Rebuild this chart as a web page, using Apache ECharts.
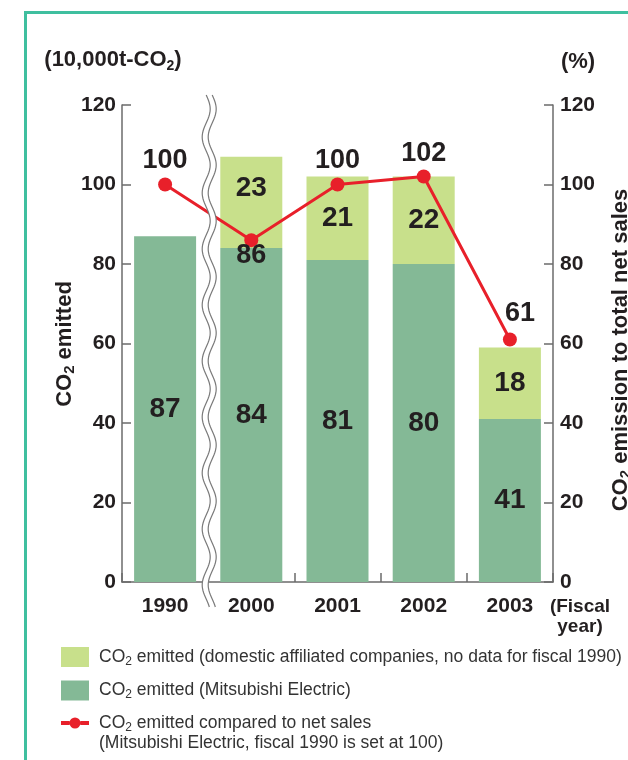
<!DOCTYPE html>
<html>
<head>
<meta charset="utf-8">
<script src="https://cdn.jsdelivr.net/npm/echarts@6/dist/echarts.min.js"></script>
<style>
  html, body { margin: 0; padding: 0; background: #ffffff; }
  #chart { width: 628px; height: 760px; }
</style>
</head>
<body>
<div id="chart"></div>
<script>
// Fiscal years on the category axis
const years = ['1990', '2000', '2001', '2002', '2003'];
// CO2 emitted by Mitsubishi Electric (10,000 t-CO2)
const melcoEmissions = [87, 84, 81, 80, 41];
// CO2 emitted by domestic affiliated companies (no data for fiscal 1990)
const affiliateEmissions = [null, 23, 21, 22, 18];
// CO2 emitted compared to net sales (fiscal 1990 = 100)
const salesRatio = [100, 86, 100, 102, 61];
// Shared scale of both value axes
const axisMin = 0;
const axisMax = 120;
const axisStep = 20;

const nameAffiliates = 'CO2 emitted (domestic affiliated companies, no data for fiscal 1990)';
const nameMelco = 'CO2 emitted (Mitsubishi Electric)';
const nameRatio = 'CO2 emitted compared to net sales';
const ratioNote = '(Mitsubishi Electric, fiscal 1990 is set at 100)';

const FONT = '"Liberation Sans", Arial, Helvetica, sans-serif';
const INK = '#231f20';
const AXIS = '#6b6b6b';
const DARK_GREEN = '#84b996';
const LIGHT_GREEN = '#c8e08b';
const RED = '#e8202a';
const TEAL = '#3fbf9f';

// Turns "CO2" into rich text with a small, lowered "2"
function co2Rich(text, bodyStyle) {
  return text.split('CO2').map(function (part, i) {
    const head = i > 0 ? '{' + bodyStyle + '|CO}{s|2}' : '';
    return head + (part ? '{' + bodyStyle + '|' + part + '}' : '');
  }).join('');
}

const chart = echarts.init(document.getElementById('chart'), null, { renderer: 'canvas' });

const valueAxisBase = {
  type: 'value',
  min: axisMin,
  max: axisMax,
  interval: axisStep,
  splitLine: { show: false },
  axisLine: { show: true, lineStyle: { color: AXIS, width: 1.5 } },
  axisTick: { show: true, inside: true, length: 9, lineStyle: { color: AXIS, width: 1.5 } },
  axisLabel: { fontFamily: FONT, fontSize: 21, fontWeight: 'bold', color: INK }
};

const legendRich = {
  t: { fontFamily: FONT, fontSize: 17.5, color: '#333333', lineHeight: 21 },
  s: { fontFamily: FONT, fontSize: 12, color: '#333333', lineHeight: 16, verticalAlign: 'bottom' }
};

const option = {
  animation: false,
  backgroundColor: '#ffffff',
  textStyle: { fontFamily: FONT },
  grid: { left: 122, right: 75, top: 105, bottom: 178, outerBoundsMode: 'none', containLabel: false },
  legend: {
    orient: 'vertical',
    left: 61,
    top: 647,
    padding: 0,
    itemWidth: 28,
    itemHeight: 20,
    itemGap: 13,
    selectedMode: false,
    symbolKeepAspect: true,
    data: [
      { name: nameAffiliates, icon: 'rect' },
      { name: nameMelco, icon: 'rect' },
      {
        name: nameRatio,
        icon: 'path://M0,8 L8.6,8 L8.6,12 L0,12 Z M19.4,8 L28,8 L28,12 L19.4,12 Z M8.5,10 A5.5,5.5 0 1,1 19.5,10 A5.5,5.5 0 1,1 8.5,10 Z'
      }
    ],
    formatter: function (name) { return co2Rich(name, 't'); },
    textStyle: { padding: [0, 0, 0, 5], rich: legendRich }
  },
  xAxis: {
    type: 'category',
    data: years,
    boundaryGap: true,
    axisLine: { lineStyle: { color: AXIS, width: 1.5 } },
    axisTick: { show: true, inside: true, length: 9, lineStyle: { color: AXIS, width: 1.5 } },
    axisLabel: { fontFamily: FONT, fontSize: 21, fontWeight: 'bold', color: INK, margin: 14 },
    name: '{f|(Fiscal}\n{f|year)}',
    nameLocation: 'end',
    nameGap: -6,
    nameTextStyle: {
      align: 'left', verticalAlign: 'top', padding: [15, 0, 0, 0],
      rich: {
        f: { fontFamily: FONT, fontSize: 19, fontWeight: 'bold', color: INK, lineHeight: 20, width: 66, align: 'center' }
      }
    }
  },
  yAxis: [
    Object.assign({}, valueAxisBase, {
      position: 'left',
      axisLabel: Object.assign({}, valueAxisBase.axisLabel, { margin: 6 }),
      name: '{b|(10,000t-CO}{s|2}{b|)}',
      nameLocation: 'end',
      nameGap: 32,
      nameTextStyle: {
        align: 'center',
        padding: [0, 18, 0, 0],
        rich: {
          b: { fontFamily: FONT, fontSize: 22, fontWeight: 'bold', color: INK, lineHeight: 26 },
          s: { fontFamily: FONT, fontSize: 14, fontWeight: 'bold', color: INK, lineHeight: 19, verticalAlign: 'bottom' }
        }
      }
    }),
    Object.assign({}, valueAxisBase, {
      position: 'right',
      axisLabel: Object.assign({}, valueAxisBase.axisLabel, { margin: 7 }),
      name: '(%)',
      nameLocation: 'end',
      nameGap: 32,
      nameTextStyle: {
        fontFamily: FONT, fontSize: 22, fontWeight: 'bold', color: INK,
        align: 'center', padding: [0, 0, 0, 50]
      }
    })
  ],
  series: [
    {
      name: nameMelco,
      type: 'bar',
      stack: 'co2',
      barWidth: 62,
      itemStyle: { color: DARK_GREEN },
      label: {
        show: true, position: 'inside',
        fontFamily: FONT, fontSize: 28, fontWeight: 'bold', color: INK
      },
      data: melcoEmissions
    },
    {
      name: nameAffiliates,
      type: 'bar',
      stack: 'co2',
      barWidth: 62,
      itemStyle: { color: LIGHT_GREEN },
      label: {
        show: true, position: 'inside',
        fontFamily: FONT, fontSize: 28, fontWeight: 'bold', color: INK
      },
      // the 2000 label sits higher to clear the ratio label below it
      data: affiliateEmissions.map(function (v, i) {
        return i === 1 ? { value: v, label: { offset: [0, -14] } } : v;
      })
    },
    {
      name: nameRatio,
      type: 'line',
      yAxisIndex: 1,
      symbol: 'circle',
      symbolSize: 14,
      z: 5,
      itemStyle: { color: RED },
      lineStyle: { color: RED, width: 3 },
      label: {
        show: true, position: 'top', distance: 3,
        fontFamily: FONT, fontSize: 27, fontWeight: 'bold', color: INK
      },
      data: salesRatio.map(function (v, i) {
        if (i === 1) return { value: v, label: { position: 'bottom', offset: [0, -8] } };
        if (i === 4) return { value: v, label: { offset: [10, -2] } };
        return v;
      })
    }
  ]
};

chart.setOption(option);

// Decorations: frame, axis break between 1990 and 2000, vertical titles, legend note
function buildGraphics() {
  const x0 = chart.convertToPixel({ xAxisIndex: 0 }, years[0]);
  const x1 = chart.convertToPixel({ xAxisIndex: 0 }, years[1]);
  const xc = (x0 + x1) / 2 + 1;
  const yTop = 95, yBottom = 608;
  const amp = 4, period = 56, half = 3;
  const left = [], right = [];
  for (let y = yTop; y <= yBottom; y += 2) {
    const dx = amp * Math.sin((y - yTop) / period * 2 * Math.PI);
    left.push([xc - half + dx, y]);
    right.push([xc + half + dx, y]);
  }
  const band = left.concat(right.slice().reverse());

  const titleRich = {
    b: { fontFamily: FONT, fontSize: 22, fontWeight: 'bold', fill: INK, lineHeight: 24 },
    s: { fontFamily: FONT, fontSize: 15, fontWeight: 'bold', fill: INK, lineHeight: 19, verticalAlign: 'bottom' }
  };

  chart.setOption({
    graphic: [
      { type: 'rect', z: 100, shape: { x: 24, y: 11, width: 620, height: 3 }, style: { fill: TEAL } },
      { type: 'rect', z: 100, shape: { x: 24, y: 11, width: 3, height: 760 }, style: { fill: TEAL } },
      { type: 'polygon', z: 100, shape: { points: band }, style: { fill: '#ffffff', stroke: null } },
      { type: 'polyline', z: 101, shape: { points: left }, style: { stroke: '#7a7a7a', lineWidth: 1.2, fill: null } },
      { type: 'polyline', z: 101, shape: { points: right }, style: { stroke: '#7a7a7a', lineWidth: 1.2, fill: null } },
      {
        type: 'text', z: 100, x: 65, y: 344, rotation: Math.PI / 2,
        style: { text: co2Rich('CO2 emitted', 'b'), rich: titleRich, align: 'center', verticalAlign: 'middle' }
      },
      {
        type: 'text', z: 100, x: 621, y: 350, rotation: Math.PI / 2,
        style: { text: co2Rich('CO2 emission to total net sales', 'b'), rich: titleRich, align: 'center', verticalAlign: 'middle' }
      },
      {
        type: 'text', z: 100, x: 99, y: 743,
        style: { text: ratioNote, font: '17.5px ' + FONT, fill: '#333333', align: 'left', verticalAlign: 'middle' }
      }
    ]
  });
}
buildGraphics();
</script>
</body>
</html>
